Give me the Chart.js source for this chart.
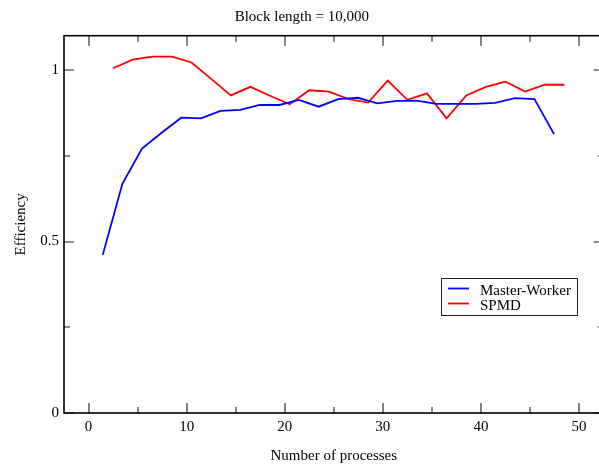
<!DOCTYPE html>
<html>
<head>
<meta charset="utf-8">
<script src="https://cdn.jsdelivr.net/npm/chart.js@4"></script>
<style>
html,body{margin:0;padding:0;background:#fff;overflow:hidden;}
canvas{display:block;}
</style>
</head>
<body>
<canvas id="c" width="612" height="466"></canvas>
<script>
// ---- data ----
const titleText = 'Block length = 10,000';
const xTitle = 'Number of processes';
const yTitle = 'Efficiency';

const mwLabel = 'Master-Worker';
const mwX = [1.45, 3.45, 5.45, 7.45, 9.45, 11.45, 13.45, 15.45, 17.45, 19.45, 21.45, 23.45,
             25.45, 27.45, 29.45, 31.45, 33.45, 35.45, 37.45, 39.45, 41.45, 43.45, 45.45, 47.45];
const mwY = [0.461, 0.668, 0.771, 0.817, 0.861, 0.859, 0.881, 0.884, 0.898, 0.898, 0.913, 0.893,
             0.915, 0.919, 0.903, 0.910, 0.911, 0.901, 0.901, 0.901, 0.904, 0.918, 0.915, 0.813];

const spmdLabel = 'SPMD';
const spmdX = [2.5, 4.5, 6.5, 8.5, 10.5, 12.5, 14.5, 16.5, 18.5, 20.5, 22.5, 24.5,
               26.5, 28.5, 30.5, 32.5, 34.5, 36.5, 38.5, 40.5, 42.5, 44.5, 46.5, 48.5];
const spmdY = [1.005, 1.030, 1.039, 1.039, 1.022, 0.974, 0.926, 0.951, 0.925, 0.900, 0.941, 0.937,
               0.915, 0.905, 0.969, 0.913, 0.932, 0.859, 0.926, 0.951, 0.966, 0.937, 0.957, 0.957];

const xTicks = [0, 10, 20, 30, 40, 50];
const xMinorTicks = [5, 15, 25, 35, 45];
const yTicks = [0, 0.5, 1];
const yTickLabels = ['0', '0.5', '1'];
const yMinorTicks = [0.25, 0.75];

// ---- chart ----
const FONT = "'Liberation Serif', 'Times New Roman', serif";
const toPts = (xs, ys) => xs.map((x, i) => ({x: x, y: ys[i]}));

const framePlugin = {
  id: 'frame',
  afterDatasetsDraw(chart) {
    const {ctx, chartArea: a, scales: {x, y}} = chart;
    ctx.save();
    ctx.lineWidth = 1.6;
    ctx.strokeStyle = '#666';
    const MAJ = 10, MIN = 6;
    const vtick = (px, len) => {
      const X = Math.round(px);
      ctx.beginPath();
      ctx.moveTo(X, a.bottom); ctx.lineTo(X, a.bottom - len);
      ctx.moveTo(X, a.top); ctx.lineTo(X, a.top + len);
      ctx.stroke();
    };
    const htick = (py, len) => {
      const Y = Math.round(py);
      ctx.beginPath();
      ctx.moveTo(a.left, Y); ctx.lineTo(a.left + len, Y);
      ctx.moveTo(a.right, Y); ctx.lineTo(a.right - len, Y);
      ctx.stroke();
    };
    xTicks.forEach(v => vtick(x.getPixelForValue(v), MAJ));
    xMinorTicks.forEach(v => vtick(x.getPixelForValue(v), MIN));
    yTicks.forEach(v => htick(y.getPixelForValue(v), MAJ));
    yMinorTicks.forEach(v => htick(y.getPixelForValue(v), MIN));
    ctx.strokeStyle = '#000';
    ctx.lineWidth = 1.6;
    ctx.strokeRect(a.left, a.top, a.right - a.left, a.bottom - a.top);
    ctx.restore();
  }
};

const legendPlugin = {
  id: 'boxLegend',
  afterDraw(chart) {
    const {ctx} = chart;
    const bx = 441.5, by = 278.5, bw = 136, bh = 37;
    ctx.save();
    ctx.fillStyle = '#fff';
    ctx.fillRect(bx, by, bw, bh);
    ctx.strokeStyle = '#222';
    ctx.lineWidth = 1;
    ctx.strokeRect(bx, by, bw, bh);
    ctx.font = '15px ' + FONT;
    ctx.textBaseline = 'alphabetic';
    ctx.textAlign = 'left';
    chart.data.datasets.forEach((ds, i) => {
      const ly = 288.5 + i * 15;
      ctx.strokeStyle = ds.borderColor;
      ctx.lineWidth = 1.8;
      ctx.beginPath();
      ctx.moveTo(448, ly); ctx.lineTo(469, ly);
      ctx.stroke();
      ctx.fillStyle = '#000';
      ctx.fillText(ds.label, 480, 295 + i * 14.5);
    });
    ctx.restore();
  }
};

new Chart(document.getElementById('c'), {
  type: 'line',
  data: {
    datasets: [
      {label: mwLabel, data: toPts(mwX, mwY), borderColor: '#0000ff', backgroundColor: '#0000ff',
       borderWidth: 1.8, pointRadius: 0, tension: 0, fill: false},
      {label: spmdLabel, data: toPts(spmdX, spmdY), borderColor: '#ff0000', backgroundColor: '#ff0000',
       borderWidth: 1.8, pointRadius: 0, tension: 0, fill: false}
    ]
  },
  options: {
    responsive: false,
    animation: false,
    devicePixelRatio: 1,
    layout: {padding: {left: 0, right: 8.4, top: 0, bottom: 0}},
    plugins: {
      legend: {display: false},
      tooltip: {enabled: false},
      title: {display: true, text: titleText, color: '#000',
              font: {family: FONT, size: 15, weight: 'normal'}, padding: {top: 8, bottom: 9.7}}
    },
    scales: {
      x: {
        type: 'linear', min: -2.5, max: 52.5,
        grid: {display: false, drawTicks: false},
        border: {display: false},
        ticks: {color: '#000', font: {family: FONT, size: 15}, padding: 5, autoSkip: false, maxRotation: 0,
                callback: v => String(v)},
        afterBuildTicks: s => { s.ticks = xTicks.map(v => ({value: v})); },
        afterFit: s => { s.height = 53; },
        title: {display: true, text: xTitle, color: '#000', font: {family: FONT, size: 15}, padding: {top: 0, bottom: 1}}
      },
      y: {
        type: 'linear', min: 0, max: 1.1,
        grid: {display: false, drawTicks: false},
        border: {display: false},
        ticks: {color: '#000', font: {family: FONT, size: 15}, padding: 5,
                callback: v => { const i = yTicks.indexOf(v); return i >= 0 ? yTickLabels[i] : String(v); }},
        afterBuildTicks: s => { s.ticks = yTicks.map(v => ({value: v})); },
        afterFit: s => { s.width = 64; },
        title: {display: true, text: yTitle, color: '#000', font: {family: FONT, size: 15}, padding: {top: 12, bottom: 0}}
      }
    }
  },
  plugins: [framePlugin, legendPlugin]
});
</script>
</body>
</html>
